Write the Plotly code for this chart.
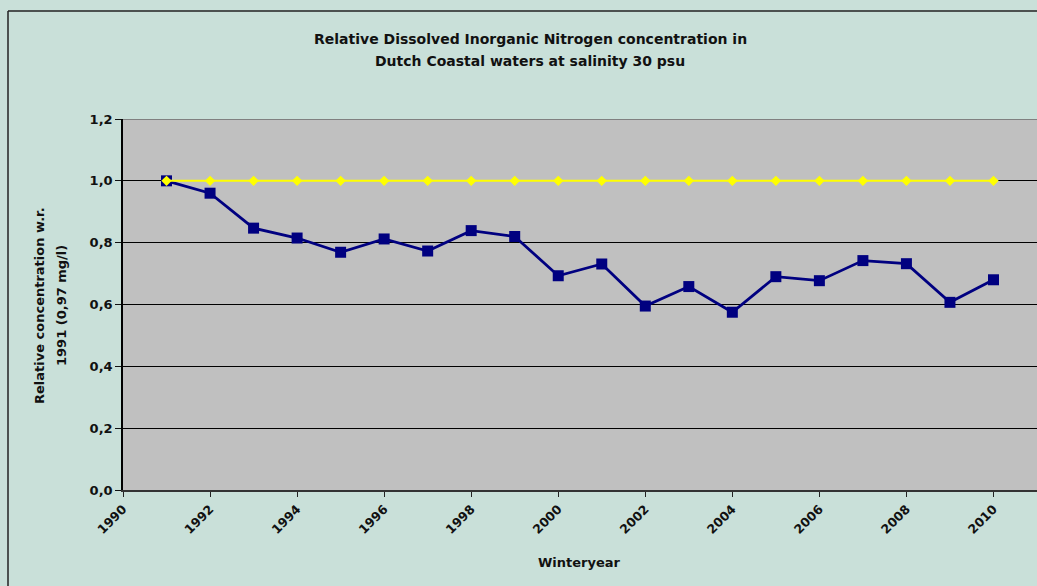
import plotly.graph_objects as go

# Winter years and relative DIN concentration (w.r.t. 1991 = 0.97 mg/l)
years = [1991, 1992, 1993, 1994, 1995, 1996, 1997, 1998, 1999, 2000,
         2001, 2002, 2003, 2004, 2005, 2006, 2007, 2008, 2009, 2010]
relative_din = [1.000, 0.960, 0.847, 0.815, 0.769, 0.812, 0.773, 0.839, 0.820, 0.693,
                0.731, 0.595, 0.658, 0.575, 0.690, 0.677, 0.742, 0.732, 0.607, 0.680]
reference_level = [1.0] * len(years)

y_ticks = [0.0, 0.2, 0.4, 0.6, 0.8, 1.0, 1.2]
y_tick_labels = ["0,0", "0,2", "0,4", "0,6", "0,8", "1,0", "1,2"]
x_ticks = [1990, 1992, 1994, 1996, 1998, 2000, 2002, 2004, 2006, 2008, 2010]

title_lines = ["Relative Dissolved Inorganic Nitrogen concentration in",
               "Dutch Coastal waters at salinity 30 psu"]
y_title_lines = ["Relative concentration w.r.", "1991 (0,97 mg/l)"]
x_title = "Winteryear"

W, H = 1037, 586
L, T, B, R = 123, 119, 96, 0
plot_w = W - L - R
plot_h = H - T - B

FONT = "DejaVu Sans, Verdana, sans-serif"
TEXT = "#111111"
BG = "#C9E0D9"
PLOT_BG = "#C0C0C0"


def px_x(px):
    return (px - L) / plot_w


def px_y(py):
    return (H - B - py) / plot_h


def bold(size):
    return dict(family=FONT, size=size, color=TEXT, weight="bold")


fig = go.Figure()

fig.add_trace(go.Scatter(
    x=years, y=relative_din, mode="lines+markers",
    line=dict(color="#000080", width=2.8),
    marker=dict(symbol="square", size=11, color="#000080"),
    showlegend=False,
))
fig.add_trace(go.Scatter(
    x=years, y=reference_level, mode="lines+markers",
    line=dict(color="#FFFF00", width=2),
    marker=dict(symbol="diamond", size=8, color="#FFFF00"),
    showlegend=False,
))

fig.update_layout(
    width=W, height=H,
    margin=dict(l=L, r=R, t=T, b=B, pad=0),
    paper_bgcolor=BG, plot_bgcolor=PLOT_BG,
    font=dict(family=FONT, color=TEXT),
    xaxis=dict(
        range=[1990, 2011], tickvals=x_ticks, ticktext=[str(v) for v in x_ticks],
        tickangle=-45, tickfont=bold(12.5),
        ticks="outside", ticklen=5, tickcolor="#222222", tickwidth=1,
        showgrid=False, zeroline=False,
        showline=True, linecolor="#333333", linewidth=2,
    ),
    yaxis=dict(
        range=[0, 1.2], tickvals=y_ticks, ticktext=y_tick_labels,
        tickfont=bold(13),
        ticks="outside", ticklen=6, tickcolor="#111111", tickwidth=1,
        showgrid=True, gridcolor="#000000", gridwidth=1,
        zeroline=False, showline=True, linecolor="#000000", linewidth=1.5,
    ),
)

# top edge of the plotting area
fig.add_shape(type="line", xref="x", yref="y", x0=1990, x1=2011, y0=1.2, y1=1.2,
              line=dict(color="#808080", width=2), layer="above")

# outer chart frame (left and top edges)
fig.add_shape(type="line", xref="paper", yref="paper",
              x0=px_x(8), x1=px_x(8), y0=px_y(11), y1=px_y(H + 5),
              line=dict(color="#222222", width=1.5))
fig.add_shape(type="line", xref="paper", yref="paper",
              x0=px_x(8), x1=px_x(W + 5), y0=px_y(11), y1=px_y(11),
              line=dict(color="#222222", width=1.5))

for line_text, cy in zip(title_lines, [39, 61]):
    fig.add_annotation(text=line_text, xref="paper", yref="paper",
                       x=px_x(530), y=px_y(cy), showarrow=False,
                       xanchor="center", yanchor="middle", font=bold(14))

for line_text, cx in zip(y_title_lines, [39, 61]):
    fig.add_annotation(text=line_text, xref="paper", yref="paper",
                       x=px_x(cx), y=px_y(306), showarrow=False, textangle=-90,
                       xanchor="center", yanchor="middle", font=bold(13))

fig.add_annotation(text=x_title, xref="paper", yref="paper",
                   x=px_x(579), y=px_y(562), showarrow=False,
                   xanchor="center", yanchor="middle", font=bold(13))

fig.write_html("out.html")
